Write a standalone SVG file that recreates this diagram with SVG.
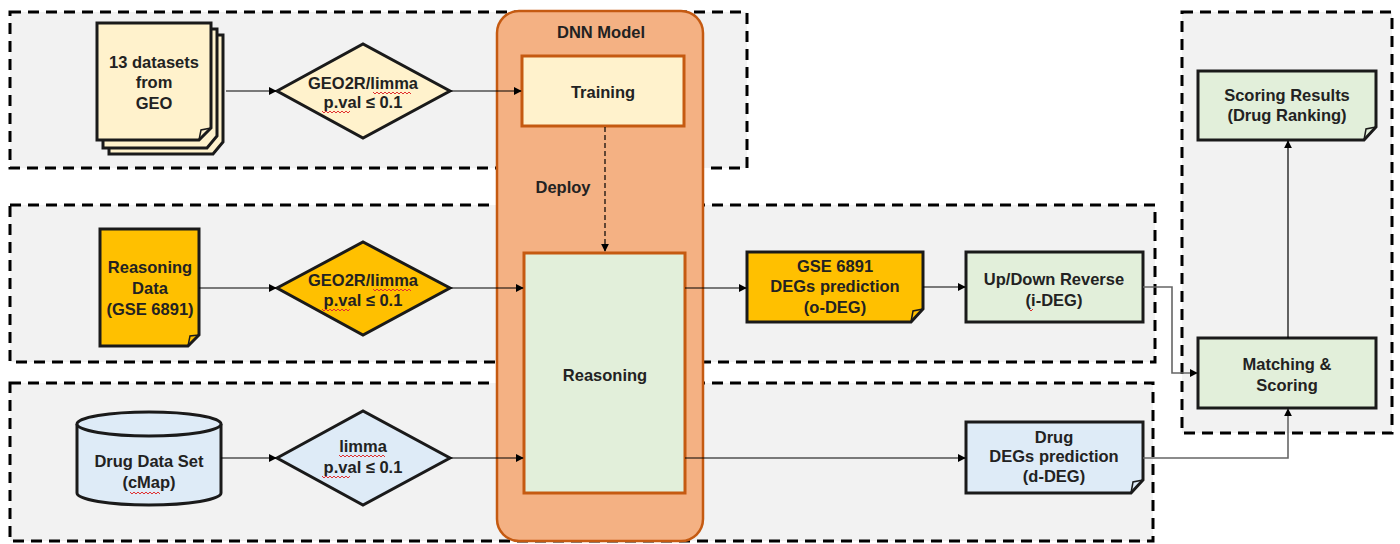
<svg xmlns="http://www.w3.org/2000/svg" width="1400" height="544" viewBox="0 0 1400 544">
<defs>
<style>
.grp{fill:#F2F2F2;stroke:#000;stroke-width:3;stroke-dasharray:11 7}
.t{font-family:"Liberation Sans",Arial,sans-serif;font-weight:bold;font-size:16.5px;fill:#222;text-anchor:middle}
.nd{stroke:#1a1a1a;stroke-width:3}
.ln{fill:none;stroke:#000;stroke-width:1.2}
.lg{fill:none;stroke:#666;stroke-width:1.6}
.sq{fill:none;stroke:#e03030;stroke-width:1}
.fold{fill:none;stroke:#1a1a1a;stroke-width:1.5}
</style>
<marker id="ah" viewBox="0 0 10 10" refX="9" refY="5" markerWidth="8" markerHeight="8" markerUnits="userSpaceOnUse" orient="auto">
<path d="M0,0 L10,5 L0,10 Z" fill="#000"/>
</marker>
</defs>
<rect width="1400" height="544" fill="#fff"/>
<!-- group boxes -->
<g id="groups">
<rect class="grp" x="10" y="12" width="737" height="156"/>
<rect class="grp" x="10" y="205" width="1145" height="157"/>
<rect class="grp" x="10" y="383" width="1143" height="158"/>
<rect class="grp" x="1182" y="12" width="210" height="421"/>
</g>
<!-- DNN model -->
<g id="dnn">
<rect x="497" y="11" width="206" height="530" rx="22" fill="#F4B183" stroke="#C55A11" stroke-width="2.5"/>
<text class="t" x="601" y="38" font-size="16">DNN Model</text>
<text class="t" x="563" y="193">Deploy</text>
</g>
<g id="training">
<rect x="522" y="56" width="162" height="70" fill="#FFF2CC" stroke="#C55A11" stroke-width="3"/>
<text class="t" x="603" y="98" font-size="17">Training</text>
</g>
<g id="reasoning">
<rect x="524" y="253" width="161" height="240" fill="#E2EFDA" stroke="#C55A11" stroke-width="3"/>
<text class="t" x="605" y="381">Reasoning</text>
</g>
<!-- 13 datasets -->
<g id="datasets">
<path class="nd" d="M109,35 H223 V142 L213,154 H109 Z" fill="#FFF2CC"/>
<path class="nd" d="M103,29 H217 V136 L207,148 H103 Z" fill="#FFF2CC"/>
<path class="nd" d="M97,23 H211 V128 L199,140 H97 Z" fill="#FFF2CC"/>
<path class="fold" d="M199,140 L201,130 L211,128"/>
<text class="t" x="154" y="68">13 datasets</text>
<text class="t" x="154" y="88">from</text>
<text class="t" x="154" y="109">GEO</text>
</g>
<g id="geo2r1">
<polygon class="nd" points="277,91 363,44 450,91 363,138" fill="#FFF2CC"/>
<text class="t" x="363" y="89">GEO2R/limma</text>
<text class="t" x="363" y="108">p.val ≤ 0.1</text>
<path class="sq" d="M373,92 l2,2 2,-2 2,2 2,-2 2,2 2,-2 2,2 2,-2 2,2 2,-2 2,2 2,-2 2,2 2,-2 2,2 2,-2 2,2 2,-2 2,2"/>
<path class="sq" d="M322,111 l2,2 2,-2 2,2 2,-2 2,2 2,-2 2,2 2,-2 2,2 2,-2 2,2 2,-2 2,2 2,-2"/>
</g>
<!-- middle row -->
<g id="reasoningdata">
<path class="nd" d="M100,229 H199 V335 L188,346 H100 Z" fill="#FFC000"/>
<path class="fold" d="M188,346 L190,336 L199,335"/>
<text class="t" x="150" y="273">Reasoning</text>
<text class="t" x="150" y="294">Data</text>
<text class="t" x="150" y="315">(GSE 6891)</text>
</g>
<g id="geo2r2">
<polygon class="nd" points="277,288 363,242 450,288 363,335" fill="#FFC000"/>
<text class="t" x="363" y="286">GEO2R/limma</text>
<text class="t" x="363" y="306">p.val ≤ 0.1</text>
<path class="sq" d="M373,289 l2,2 2,-2 2,2 2,-2 2,2 2,-2 2,2 2,-2 2,2 2,-2 2,2 2,-2 2,2 2,-2 2,2 2,-2 2,2 2,-2 2,2"/>
<path class="sq" d="M322,309 l2,2 2,-2 2,2 2,-2 2,2 2,-2 2,2 2,-2 2,2 2,-2 2,2 2,-2 2,2 2,-2"/>
</g>
<g id="odeg">
<path class="nd" d="M747,252 H923 V309 L911,322 H747 Z" fill="#FFC000"/>
<path class="fold" d="M911,322 L913,311 L923,309"/>
<text class="t" x="835" y="272">GSE 6891</text>
<text class="t" x="835" y="292">DEGs prediction</text>
<text class="t" x="835" y="313">(o-DEG)</text>
</g>
<g id="ideg">
<rect class="nd" x="966" y="252" width="177" height="70" fill="#E2EFDA"/>
<text class="t" x="1054" y="285">Up/Down Reverse</text>
<text class="t" x="1054" y="306">(i-DEG)</text>
<path class="sq" d="M1029,309 l2,2 2,-2"/>
</g>
<!-- bottom row -->
<g id="cmap">
<path class="nd" d="M77,424 V493 A72,12 0 0 0 221,493 V424" fill="#DEEBF7"/>
<ellipse class="nd" cx="149" cy="424" rx="72" ry="12" fill="#DEEBF7"/>
<text class="t" x="149" y="467">Drug Data Set</text>
<text class="t" x="149" y="488">(cMap)</text>
<path class="sq" d="M130,492 l2,2 2,-2 2,2 2,-2 2,2 2,-2 2,2 2,-2 2,2 2,-2 2,2 2,-2 2,2 2,-2 2,2"/>
</g>
<g id="limma3">
<polygon class="nd" points="277,458 363,411 450,458 363,505" fill="#DEEBF7"/>
<text class="t" x="363" y="452">limma</text>
<text class="t" x="363" y="473">p.val ≤ 0.1</text>
<path class="sq" d="M339,455 l2,2 2,-2 2,2 2,-2 2,2 2,-2 2,2 2,-2 2,2 2,-2 2,2 2,-2 2,2 2,-2 2,2 2,-2 2,2 2,-2 2,2 2,-2 2,2 2,-2 2,2"/>
<path class="sq" d="M322,476 l2,2 2,-2 2,2 2,-2 2,2 2,-2 2,2 2,-2 2,2 2,-2 2,2 2,-2 2,2 2,-2"/>
</g>
<g id="ddeg">
<path class="nd" d="M966,422 H1143 V480 L1131,493 H966 Z" fill="#DEEBF7"/>
<path class="fold" d="M1131,493 L1133,482 L1143,480"/>
<text class="t" x="1054" y="443">Drug</text>
<text class="t" x="1054" y="462">DEGs prediction</text>
<text class="t" x="1054" y="482">(d-DEG)</text>
</g>
<!-- right column -->
<g id="results">
<path class="nd" d="M1198,71 H1376 V127 L1364,140 H1198 Z" fill="#E2EFDA"/>
<path class="fold" d="M1364,140 L1366,129 L1376,127"/>
<text class="t" x="1287" y="101">Scoring Results</text>
<text class="t" x="1287" y="121">(Drug Ranking)</text>
</g>
<g id="matching">
<rect class="nd" x="1198" y="338" width="178" height="70" fill="#E2EFDA"/>
<text class="t" x="1287" y="370">Matching &amp;</text>
<text class="t" x="1287" y="391">Scoring</text>
</g>
<!-- connectors -->
<g id="connectors">
<line class="ln" x1="226" y1="91" x2="276" y2="91" marker-end="url(#ah)"/>
<line class="ln" x1="450" y1="91" x2="521" y2="91" marker-end="url(#ah)"/>
<line class="ln" x1="605" y1="127" x2="605" y2="251" stroke-dasharray="5 3" marker-end="url(#ah)"/>
<line class="ln" x1="199" y1="288" x2="276" y2="288" marker-end="url(#ah)"/>
<line class="ln" x1="450" y1="288" x2="523" y2="288" marker-end="url(#ah)"/>
<line class="ln" x1="685" y1="288" x2="746" y2="288" marker-end="url(#ah)"/>
<line class="ln" x1="923" y1="287" x2="965" y2="287" marker-end="url(#ah)"/>
<line class="ln" x1="221" y1="458" x2="276" y2="458" marker-end="url(#ah)"/>
<line class="ln" x1="450" y1="458" x2="523" y2="458" marker-end="url(#ah)"/>
<line class="ln" x1="685" y1="458" x2="965" y2="458" marker-end="url(#ah)"/>
<polyline class="lg" points="1143,287 1172,287 1172,373 1197,373" marker-end="url(#ah)"/>
<polyline class="lg" points="1143,458 1288,458 1288,409" marker-end="url(#ah)"/>
<line class="ln" x1="1288" y1="338" x2="1288" y2="141" marker-end="url(#ah)"/>
</g>
</svg>
